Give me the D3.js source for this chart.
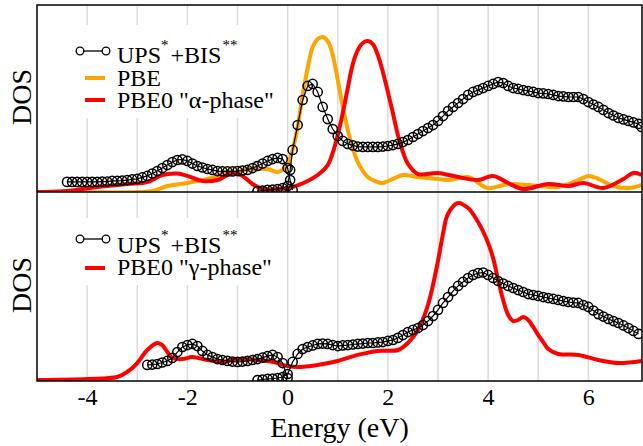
<!DOCTYPE html>
<html>
<head>
<meta charset="utf-8">
<script src="https://cdn.jsdelivr.net/npm/d3@7"></script>
<style>
  body { margin: 0; background: #fff; }
  svg text { font-family: "Liberation Serif", "Times New Roman", Times, "DejaVu Serif", serif; fill: #000; }
</style>
</head>
<body>
<div id="chart"></div>
<script>
// energies in eV, DOS in arbitrary units (0-100 = panel height)
var upsTop = [[-4.4,5.4],[-4.3,5.4],[-4.2,5.4],[-4.1,5.4],[-4.0,5.4],[-3.9,5.4],[-3.8,5.4],[-3.7,5.6],[-3.6,5.6],[-3.5,5.9],
  [-3.4,5.9],[-3.3,6.1],[-3.2,6.4],[-3.1,6.7],[-3.0,7.0],[-2.9,7.8],[-2.8,8.6],[-2.7,9.9],[-2.6,11.2],[-2.5,12.8],
  [-2.4,14.4],[-2.3,16.0],[-2.2,17.1],[-2.1,17.4],[-2.0,16.6],[-1.9,15.2],[-1.8,13.9],[-1.7,13.1],[-1.6,12.3],[-1.5,11.8],
  [-1.4,11.2],[-1.3,11.0],[-1.2,11.0],[-1.1,11.0],[-1.0,11.2],[-0.9,11.5],[-0.8,11.8],[-0.7,12.8],[-0.6,13.9],[-0.5,15.2],
  [-0.4,16.6],[-0.3,17.6],[-0.2,18.2],[-0.1,17.6],[0.0,12.8],[0.05,6.4],[0.1,1.1]];

var bisTop = [[-0.6,0.5],[-0.5,0.8],[-0.4,1.1],[-0.3,1.3],[-0.2,1.6],[-0.1,2.1],[0.0,3.2],[0.05,11.8],[0.1,22.5],[0.2,35.8],
  [0.3,49.2],[0.4,56.7],[0.5,57.8],[0.6,53.5],[0.7,45.5],[0.8,39.0],[0.9,33.7],[1.0,29.9],[1.1,27.3],[1.2,25.7],
  [1.3,24.9],[1.4,24.3],[1.5,24.1],[1.6,24.1],[1.7,24.1],[1.8,24.1],[1.9,24.3],[2.0,24.6],[2.1,25.1],[2.2,25.7],
  [2.3,26.7],[2.4,27.8],[2.5,29.4],[2.6,31.0],[2.7,32.6],[2.8,34.2],[2.9,35.8],[3.0,38.0],[3.1,40.6],[3.2,43.3],
  [3.3,45.5],[3.4,47.6],[3.5,49.7],[3.6,51.9],[3.7,53.5],[3.8,54.5],[3.9,55.6],[4.0,56.7],[4.1,57.8],[4.2,58.8],
  [4.3,58.3],[4.4,56.7],[4.5,55.6],[4.6,55.1],[4.7,54.5],[4.8,54.0],[4.9,53.5],[5.0,52.9],[5.1,52.7],[5.2,52.4],
  [5.3,51.9],[5.4,51.3],[5.5,51.1],[5.6,50.8],[5.7,50.8],[5.8,50.8],[5.9,49.7],[6.0,48.1],[6.1,46.8],[6.2,45.5],
  [6.3,43.9],[6.4,42.2],[6.5,40.9],[6.6,39.6],[6.7,38.8],[6.8,38.0],[6.9,37.2],[7.0,36.4],[7.06,34.8]];

var pbe = [[-5.0,0],[-3.0,0],[-2.7,0.5],[-2.4,3.2],[-2.0,4.8],[-1.6,7.0],[-1.4,8.6],[-1.2,11.2],[-1.0,10.7],[-0.8,12.3],
  [-0.6,12.3],[-0.4,12.3],[-0.2,10.7],[-0.1,11.8],[0.0,15.0],[0.1,22.5],[0.2,34.8],[0.3,51.9],[0.4,66.3],[0.5,77.5],
  [0.6,81.8],[0.7,82.9],[0.8,80.7],[0.9,73.3],[1.0,59.9],[1.1,45.5],[1.2,33.2],[1.3,23.5],[1.4,16.0],[1.6,8.0],
  [1.8,5.3],[1.9,4.8],[2.1,7.0],[2.3,9.1],[2.6,8.0],[3.0,7.0],[3.2,6.4],[3.6,8.0],[4.0,2.1],[4.4,4.3],
  [5.0,3.2],[5.4,2.7],[5.8,6.4],[6.0,8.6],[6.2,7.0],[6.5,3.2],[6.8,2.1],[7.06,3.7]];

var pbe0Alpha = [[-5.0,0],[-4.9,0],[-4.4,0.5],[-3.8,2.7],[-3.2,4.3],[-2.8,5.3],[-2.5,9.1],[-2.2,9.9],[-2.0,8.6],[-1.7,5.9],
  [-1.4,6.4],[-1.1,10.2],[-0.9,8.6],[-0.7,4.3],[-0.5,1.6],[-0.2,1.6],[0.1,2.7],[0.4,5.9],[0.6,9.1],[0.8,14.4],
  [0.9,20.9],[1.0,30.5],[1.1,42.2],[1.2,55.6],[1.3,68.4],[1.4,75.9],[1.5,79.7],[1.6,80.7],[1.7,79.1],[1.8,73.3],
  [1.9,64.2],[2.0,53.5],[2.1,42.2],[2.2,30.5],[2.3,21.4],[2.4,15.0],[2.6,9.6],[3.0,10.2],[3.4,8.0],[3.8,6.4],
  [4.1,8.6],[4.4,4.8],[4.7,1.6],[5.2,4.3],[5.6,3.2],[5.9,4.8],[6.3,2.1],[6.7,7.0],[6.9,10.2],[7.06,9.1]];

var upsBot = [[-2.8,8.5],[-2.7,8.7],[-2.6,9.0],[-2.5,9.8],[-2.4,10.6],[-2.3,12.2],[-2.2,15.3],[-2.1,18.0],[-2.0,19.0],[-1.9,19.6],
  [-1.8,18.5],[-1.7,15.9],[-1.6,13.8],[-1.5,12.7],[-1.4,11.6],[-1.3,11.1],[-1.2,10.6],[-1.1,10.3],[-1.0,10.1],[-0.9,10.3],
  [-0.8,10.6],[-0.7,11.1],[-0.6,11.6],[-0.5,12.4],[-0.4,13.2],[-0.3,13.8],[-0.2,12.7],[-0.1,9.5],[0.0,1.6]];

var bisBot = [[-0.6,0.5],[-0.5,0.8],[-0.4,1.1],[-0.3,1.3],[-0.2,1.6],[-0.1,2.1],[0.0,3.7],[0.1,10.1],[0.2,14.3],[0.3,16.9],
  [0.4,18.0],[0.5,18.8],[0.6,19.6],[0.7,19.8],[0.8,19.6],[0.9,19.0],[1.0,18.5],[1.1,18.8],[1.2,19.0],[1.3,19.3],
  [1.4,19.6],[1.5,19.8],[1.6,20.1],[1.7,20.1],[1.8,20.4],[1.9,20.6],[2.0,21.2],[2.1,21.7],[2.2,22.8],[2.3,24.3],
  [2.4,25.9],[2.5,27.0],[2.6,28.0],[2.7,29.6],[2.8,31.7],[2.9,34.4],[3.0,37.6],[3.1,41.3],[3.2,44.4],[3.3,47.6],
  [3.4,50.3],[3.5,52.4],[3.6,54.5],[3.7,56.1],[3.8,57.1],[3.9,57.4],[4.0,56.1],[4.1,54.5],[4.2,52.9],[4.3,51.6],
  [4.4,50.3],[4.5,49.2],[4.6,48.1],[4.7,47.1],[4.8,46.0],[4.9,45.5],[5.0,45.0],[5.1,44.4],[5.2,43.9],[5.3,43.4],
  [5.4,42.9],[5.5,42.3],[5.6,41.8],[5.7,41.5],[5.8,41.3],[5.9,40.2],[6.0,39.2],[6.1,37.3],[6.2,35.4],[6.3,34.1],
  [6.4,32.8],[6.5,31.7],[6.6,30.7],[6.7,29.4],[6.8,28.0],[6.9,26.5],[7.0,24.9]];

var pbe0Gamma = [[-5.0,0.5],[-4.0,1.1],[-3.4,2.1],[-3.2,4.8],[-3.0,9.5],[-2.8,16.4],[-2.6,20.1],[-2.5,19.0],[-2.4,15.3],[-2.3,12.2],
  [-2.1,11.6],[-1.9,12.7],[-1.6,11.1],[-1.3,10.1],[-1.0,11.6],[-0.6,11.1],[-0.3,10.1],[0.0,7.9],[0.2,7.4],[0.6,8.5],
  [1.0,10.6],[1.4,13.8],[1.8,15.9],[2.2,16.4],[2.4,20.1],[2.6,27.0],[2.8,40.2],[3.0,63.5],[3.1,78.0],[3.2,88.5],
  [3.4,94.2],[3.6,91.5],[3.8,84.1],[4.0,73.0],[4.1,65.0],[4.2,53.4],[4.3,42.9],[4.4,34.9],[4.5,31.7],[4.6,32.3],
  [4.7,33.9],[4.8,32.3],[4.9,28.6],[5.0,24.3],[5.1,20.6],[5.2,16.9],[5.4,14.3],[5.8,13.8],[6.2,11.1],[6.6,9.5],[7.06,10.6]];

var tickValues = [-4, -2, 0, 2, 4, 6];
var gridValues = [-4, -3, -2, -1, 0, 1, 2, 3, 4, 5, 6];

var width = 643, height = 446;
var left = 37, right = 642, top1 = 5, mid = 192, bottom = 381;
var orange = "#ffa500", red = "#ff0000";
var serif = "'Liberation Serif', 'Times New Roman', Times, 'DejaVu Serif', serif";

var svg = d3.select("#chart").append("svg").attr("width", width).attr("height", height);

var x = d3.scaleLinear().domain([-5, 7.07]).range([left, right]);
var yTop = d3.scaleLinear().domain([0, 100]).range([mid, top1]);
var yBot = d3.scaleLinear().domain([0, 100]).range([bottom, mid]);

var defs = svg.append("defs");
defs.append("clipPath").attr("id", "clipTop").append("rect")
  .attr("x", left).attr("y", top1).attr("width", right - left).attr("height", mid - top1);
defs.append("clipPath").attr("id", "clipBot").append("rect")
  .attr("x", left).attr("y", mid).attr("width", right - left).attr("height", bottom - mid);

// grid
svg.append("g").selectAll("line").data(gridValues).enter().append("line")
  .attr("x1", d => x(d)).attr("x2", d => x(d))
  .attr("y1", top1).attr("y2", bottom)
  .attr("stroke", "#dcdcdc").attr("stroke-width", 1.5);

// legend backgrounds hide the grid
svg.append("rect").attr("x", 60).attr("y", 25).attr("width", 222).attr("height", 93).attr("fill", "#fff");
svg.append("rect").attr("x", 60).attr("y", 218).attr("width", 222).attr("height", 67).attr("fill", "#fff");

function lineFor(ys) {
  return d3.line().x(d => x(d[0])).y(d => ys(d[1])).curve(d3.curveCatmullRom.alpha(0.5));
}

function drawExp(g, data, ys) {
  g.append("path").datum(data).attr("d", d3.line().x(d => x(d[0])).y(d => ys(d[1])))
    .attr("fill", "none").attr("stroke", "#000").attr("stroke-width", 1.2);
  g.selectAll(null).data(data).enter().append("circle")
    .attr("cx", d => x(d[0])).attr("cy", d => ys(d[1])).attr("r", 4.6)
    .attr("fill", "none").attr("stroke", "#000").attr("stroke-width", 1.5);
}

function drawCurve(g, data, ys, color) {
  g.append("path").datum(data).attr("d", lineFor(ys))
    .attr("fill", "none").attr("stroke", color).attr("stroke-width", 4)
    .attr("stroke-linejoin", "round");
}

var gTop = svg.append("g").attr("clip-path", "url(#clipTop)");
drawCurve(gTop, pbe, yTop, orange);
drawCurve(gTop, pbe0Alpha, yTop, red);
drawExp(gTop, upsTop, yTop);
drawExp(gTop, bisTop, yTop);

var gBot = svg.append("g").attr("clip-path", "url(#clipBot)");
drawCurve(gBot, pbe0Gamma, yBot, red);
drawExp(gBot, upsBot, yBot);
drawExp(gBot, bisBot, yBot);

// frames
svg.append("rect").attr("x", left).attr("y", top1).attr("width", right - left).attr("height", bottom - top1)
  .attr("fill", "none").attr("stroke", "#000").attr("stroke-width", 1.5);
svg.append("line").attr("x1", left).attr("x2", right).attr("y1", mid).attr("y2", mid)
  .attr("stroke", "#000").attr("stroke-width", 1.5);

// x axis
var xAxis = d3.axisBottom(x).tickValues(tickValues).tickSize(0).tickPadding(7).tickFormat(d => String(d));
var ax = svg.append("g").attr("transform", "translate(0," + bottom + ")").call(xAxis);
ax.attr("font-family", serif);
ax.select(".domain").remove();
ax.selectAll("text").attr("font-size", 24).style("font-family", serif).attr("fill", "#000");

svg.append("text").attr("x", (left + right) / 2).attr("y", 437).attr("text-anchor", "middle")
  .style("font-family", serif).attr("font-size", 28).text("Energy (eV)");

// y labels
[97, 285].forEach(function (cy) {
  svg.append("text").attr("transform", "translate(31," + cy + ") rotate(-90)")
    .attr("text-anchor", "middle").style("font-family", serif).attr("font-size", 28).text("DOS");
});

// legends
function expLegend(yMark, yText) {
  svg.append("line").attr("x1", 80).attr("x2", 106).attr("y1", yMark).attr("y2", yMark)
    .attr("stroke", "#000").attr("stroke-width", 1.3);
  svg.selectAll(null).data([80, 106]).enter().append("circle")
    .attr("cx", d => d).attr("cy", yMark).attr("r", 3.8)
    .attr("fill", "#fff").attr("stroke", "#000").attr("stroke-width", 1.3);
  var t = svg.append("text").attr("x", 117).attr("y", yText).attr("font-size", 24).style("font-family", serif);
  t.append("tspan").text("UPS");
  t.append("tspan").attr("dy", -13).attr("font-size", 15).text("*");
  t.append("tspan").attr("dy", 13).attr("dx", 2).text("+BIS");
  t.append("tspan").attr("dy", -13).attr("dx", 1).attr("font-size", 15).text("**");
}
function lineLegend(yMark, yText, color, label) {
  svg.append("line").attr("x1", 85).attr("x2", 105).attr("y1", yMark).attr("y2", yMark)
    .attr("stroke", color).attr("stroke-width", 4);
  svg.append("text").attr("x", 117).attr("y", yText).attr("font-size", 24)
    .style("font-family", serif).text(label);
}

expLegend(51, 63);
lineLegend(78, 86, orange, "PBE");
lineLegend(100, 108, red, "PBE0 \"\u03b1-phase\"");

expLegend(239, 253);
lineLegend(268, 275, red, "PBE0 \"\u03b3-phase\"");
</script>
</body>
</html>
